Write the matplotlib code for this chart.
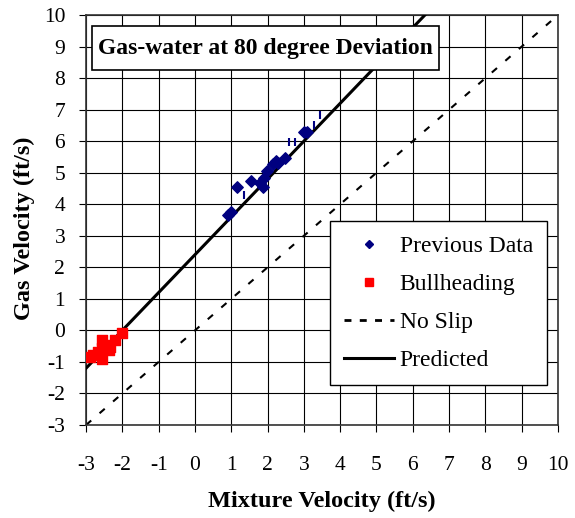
import numpy as np
import matplotlib
matplotlib.use("Agg")
import matplotlib.pyplot as plt
from matplotlib.lines import Line2D
from matplotlib.patches import Rectangle

plt.rcParams['font.family'] = ['Liberation Serif', 'DejaVu Serif']
plt.rcParams['axes.unicode_minus'] = False

# previous data (navy diamonds)
prev_x = [0.92, 0.99, 1.17, 1.54, 1.79, 1.87, 1.90, 1.99, 2.16, 2.23, 2.30, 2.48, 3.00, 3.08]
prev_y = [3.66, 3.76, 4.54, 4.74, 4.66, 4.54, 4.82, 5.06, 5.28, 5.38, 5.32, 5.46, 6.30, 6.28]
# small tick-like points from the previous data
tick_x = [1.35, 2.60, 2.76, 3.29, 3.45]
tick_y = [4.29, 5.98, 5.98, 6.51, 6.83]
# bullheading (red squares)
bull_x = [-2.89, -2.80, -2.66, -2.57, -2.57, -2.57, -2.43, -2.38, -2.34, -2.20, -2.02]
bull_y = [-0.83, -0.78, -0.67, -0.30, -0.57, -0.92, -0.46, -0.62, -0.52, -0.30, -0.09]

# model lines
slope, drift = 1.2, 2.4
line_x = np.array([-3, 10])

fig = plt.figure(figsize=(5.75, 5.18), dpi=100)
ax = fig.add_axes([0.1496, 0.1795, 0.8209, 0.7915])

ax.set_xlim(-3, 10)
ax.set_ylim(-3, 10)
ax.set_xticks(np.arange(-3, 11))
ax.set_yticks(np.arange(-3, 11))
ax.grid(True, color='black', linewidth=0.8)
ax.set_axisbelow(True)
ax.tick_params(direction='out', length=5, width=0.8, labelsize=15.5)
ax.tick_params(axis='x', pad=17)
ax.tick_params(axis='y', pad=10)
for s in ax.spines.values():
    s.set_linewidth(1.2)
    s.set_color('#333333')

nsdash = (0, (3.3, 5.3))
ax.plot(line_x, line_x, color='black', linestyle=nsdash, linewidth=1.5, zorder=2)
ax.plot(line_x, slope * line_x + drift, color='black', linewidth=2.2, zorder=3)
ax.scatter(prev_x, prev_y, marker='D', s=34, color='#000080', zorder=4)
ax.scatter(tick_x, tick_y, marker='|', s=40, color='#000080', linewidths=1.5, zorder=4)
ax.scatter(bull_x, bull_y, marker='s', s=45, color='red', zorder=4)

ax.set_xlabel('Mixture Velocity (ft/s)', fontsize=17.5, fontweight='bold', labelpad=12)
ax.set_ylabel('Gas Velocity (ft/s)', fontsize=17.5, fontweight='bold')
ax.yaxis.set_label_coords(-0.108, 0.48)

# title box
ax.add_patch(Rectangle((-2.835, 8.256), 9.555, 1.394, facecolor='white',
                       edgecolor='black', linewidth=1.2, zorder=6))
ax.text(1.94, 8.95, 'Gas-water at 80 degree Deviation', fontsize=17,
        fontweight='bold', va='center', ha='center', zorder=7)

handles = [
    Line2D([], [], marker='D', color='#000080', linestyle='none', markersize=4.5),
    Line2D([], [], marker='s', color='red', linestyle='none', markersize=6),
    Line2D([], [], color='black', linestyle=(0, (2.5, 3)), linewidth=2),
    Line2D([], [], color='black', linewidth=2.2),
]
labels = ['Previous Data', 'Bullheading', 'No Slip', 'Predicted']
leg = ax.legend(handles, labels, loc='lower right', bbox_to_anchor=(0.977, 0.097),
                fontsize=17, frameon=True, fancybox=False, framealpha=1,
                edgecolor='black', handlelength=2.1, labelspacing=0.7, borderpad=0.6,
                handletextpad=0.25, borderaxespad=0)
leg.get_frame().set_linewidth(1.0)
leg.set_zorder(6)

fig.savefig('out.png', dpi=100)
